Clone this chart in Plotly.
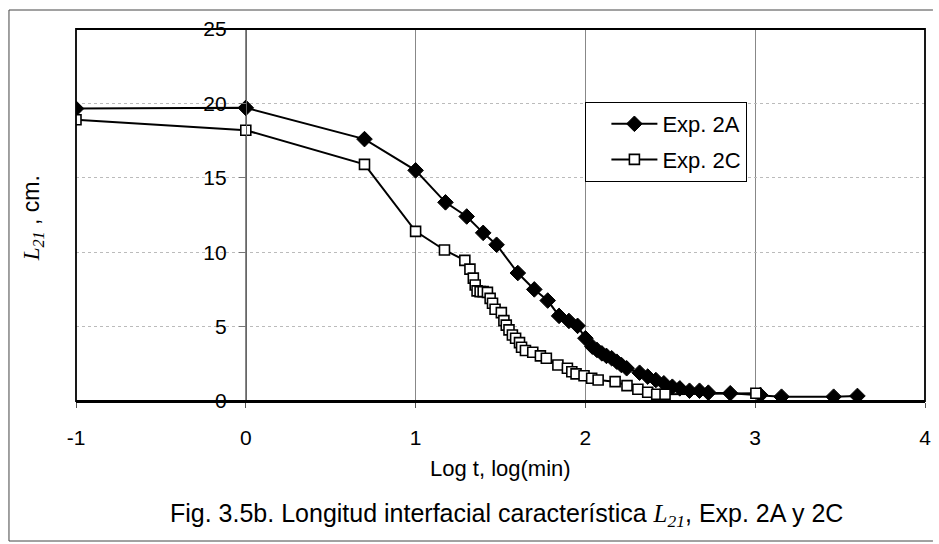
import plotly.graph_objects as go

# ---- data ----
exp2a_x = [-1, 0, 0.699, 1.0, 1.176, 1.301, 1.398, 1.477, 1.602, 1.699, 1.778, 1.845,
           1.903, 1.954, 2.0, 2.041, 2.068, 2.097, 2.124, 2.155, 2.185, 2.212, 2.243,
           2.319, 2.367, 2.415, 2.462, 2.512, 2.556, 2.613, 2.672, 2.724, 2.853, 3.03,
           3.155, 3.462, 3.602]
exp2a_y = [19.65, 19.7, 17.6, 15.5, 13.35, 12.4, 11.3, 10.5, 8.6, 7.5, 6.75, 5.72,
           5.38, 5.05, 4.22, 3.65, 3.43, 3.2, 3.03, 2.87, 2.64, 2.42, 2.2,
           1.9, 1.64, 1.41, 1.19, 0.96, 0.85, 0.69, 0.69, 0.56, 0.52, 0.4,
           0.29, 0.29, 0.34]

exp2c_x = [-1, 0, 0.699, 1.0, 1.17, 1.29, 1.32, 1.34, 1.351, 1.362, 1.38, 1.398,
           1.423, 1.439, 1.453, 1.468, 1.505, 1.52, 1.534, 1.55, 1.57, 1.589, 1.612,
           1.624, 1.647, 1.69, 1.735, 1.77, 1.838, 1.894, 1.92, 1.945, 1.992, 2.037,
           2.075, 2.175, 2.245, 2.309, 2.367, 2.42, 2.469, 3.004]
exp2c_y = [18.9, 18.2, 15.9, 11.4, 10.15, 9.45, 8.86, 8.26, 7.8, 7.4, 7.35, 7.35,
           7.3, 6.9, 6.57, 6.17, 5.94, 5.4, 5.1, 4.78, 4.44, 4.22, 3.92,
           3.61, 3.39, 3.28, 3.03, 2.87, 2.42, 2.2, 1.97, 1.82, 1.7, 1.53,
           1.41, 1.3, 1.03, 0.79, 0.59, 0.45, 0.45, 0.52]

series_names = ["Exp. 2A", "Exp. 2C"]
x_ticks = [-1, 0, 1, 2, 3, 4]
y_ticks = [0, 5, 10, 15, 20, 25]
x_title = "Log t, log(min)"
y_title = "<span style='font-family:Liberation Serif'><i>L</i><sub><i>21</i></sub></span> , cm."
caption = ("Fig. 3.5b. Longitud interfacial característica "
           "<span style='font-family:Liberation Serif'><i>L</i><sub><i>21</i></sub></span>"
           ", Exp. 2A y 2C")

FONT = "Liberation Sans, Arial, sans-serif"

fig = go.Figure()
fig.add_trace(go.Scatter(
    x=exp2a_x, y=exp2a_y, name=series_names[0], mode="lines+markers",
    line=dict(color="black", width=2),
    marker=dict(symbol="diamond", size=12, color="black", line=dict(color="black", width=1)),
    legendgroup="a",
))
fig.add_trace(go.Scatter(
    x=exp2c_x, y=exp2c_y, name=series_names[1], mode="lines+markers",
    line=dict(color="black", width=2),
    marker=dict(symbol="square", size=10, color="white", line=dict(color="black", width=1.6)),
    legendgroup="c",
))

# body margin is removed by the post script, so page pixels == figure pixels
W, H = 939, 544
L, R, T, B = 76, 8, 29, 143
pw, ph = W - L - R, H - T - B

def px_x(p):
    return (p - L) / pw

def px_y(p):
    return (H - B - p) / ph

fig.update_layout(
    width=W, height=H,
    margin=dict(l=L, r=R, t=T, b=B),
    paper_bgcolor="white", plot_bgcolor="white",
    font=dict(family=FONT, size=21, color="black"),
    showlegend=True,
    legend=dict(
        x=px_x(589), y=px_y(102), xanchor="left", yanchor="top",
        bgcolor="white", bordercolor="black", borderwidth=1,
        font=dict(family=FONT, size=22, color="black"),
        traceorder="grouped", tracegroupgap=4,
        indentation=20, itemwidth=46,
    ),
    xaxis=dict(
        range=[-1, 4], tickvals=x_ticks, ticktext=[str(v) for v in x_ticks],
        showgrid=True, gridcolor="#888", gridwidth=1,
        zeroline=False, showline=True, linecolor="black", linewidth=2,
        ticks="outside", ticklen=5, tickcolor="#555",
        ticklabelstandoff=12, ticklabeloverflow="allow",
        tickfont=dict(family=FONT, size=21),
    ),
    yaxis=dict(
        range=[0, 25], tickvals=y_ticks, ticktext=[str(v) for v in y_ticks],
        anchor="free", position=0.2,
        showgrid=True, gridcolor="#bbb", gridwidth=1, griddash="dot",
        zeroline=False, showline=True, linecolor="#666", linewidth=1,
        ticks="outside", ticklen=7, tickcolor="#777",
        ticklabelstandoff=8,
        tickfont=dict(family=FONT, size=21),
    ),
)

# plot area box (left, top, right borders)
fig.add_shape(type="rect", xref="x domain", yref="y domain", x0=0, x1=1, y0=0, y1=1,
              line=dict(color="black", width=1.8), layer="above")

# outer frame of the figure (left, top, bottom edges; right edge lies off the page)
fig.add_shape(type="path", xref="paper", yref="paper",
              path=(f"M {px_x(939)},{px_y(10)} L {px_x(8.5)},{px_y(10)} "
                    f"L {px_x(8.5)},{px_y(541)} L {px_x(939)},{px_y(541)}"),
              line=dict(color="#444", width=1))

fig.add_annotation(text=x_title, xref="paper", yref="paper",
                   x=0.5, y=px_y(468), xanchor="center", yanchor="middle",
                   showarrow=False, font=dict(family=FONT, size=22))
fig.add_annotation(text=caption, xref="paper", yref="paper",
                   x=px_x(510), y=px_y(515), xanchor="center", yanchor="middle",
                   showarrow=False, font=dict(family=FONT, size=25))
fig.add_annotation(text=y_title, xref="paper", yref="paper",
                   x=px_x(32), y=px_y(218), xanchor="center", yanchor="middle",
                   textangle=-90, showarrow=False, font=dict(family=FONT, size=23))

fig.write_html(
    "out.html",
    config={"displayModeBar": False},
    post_script="document.body.style.margin='0';document.body.style.overflow='hidden';",
)
